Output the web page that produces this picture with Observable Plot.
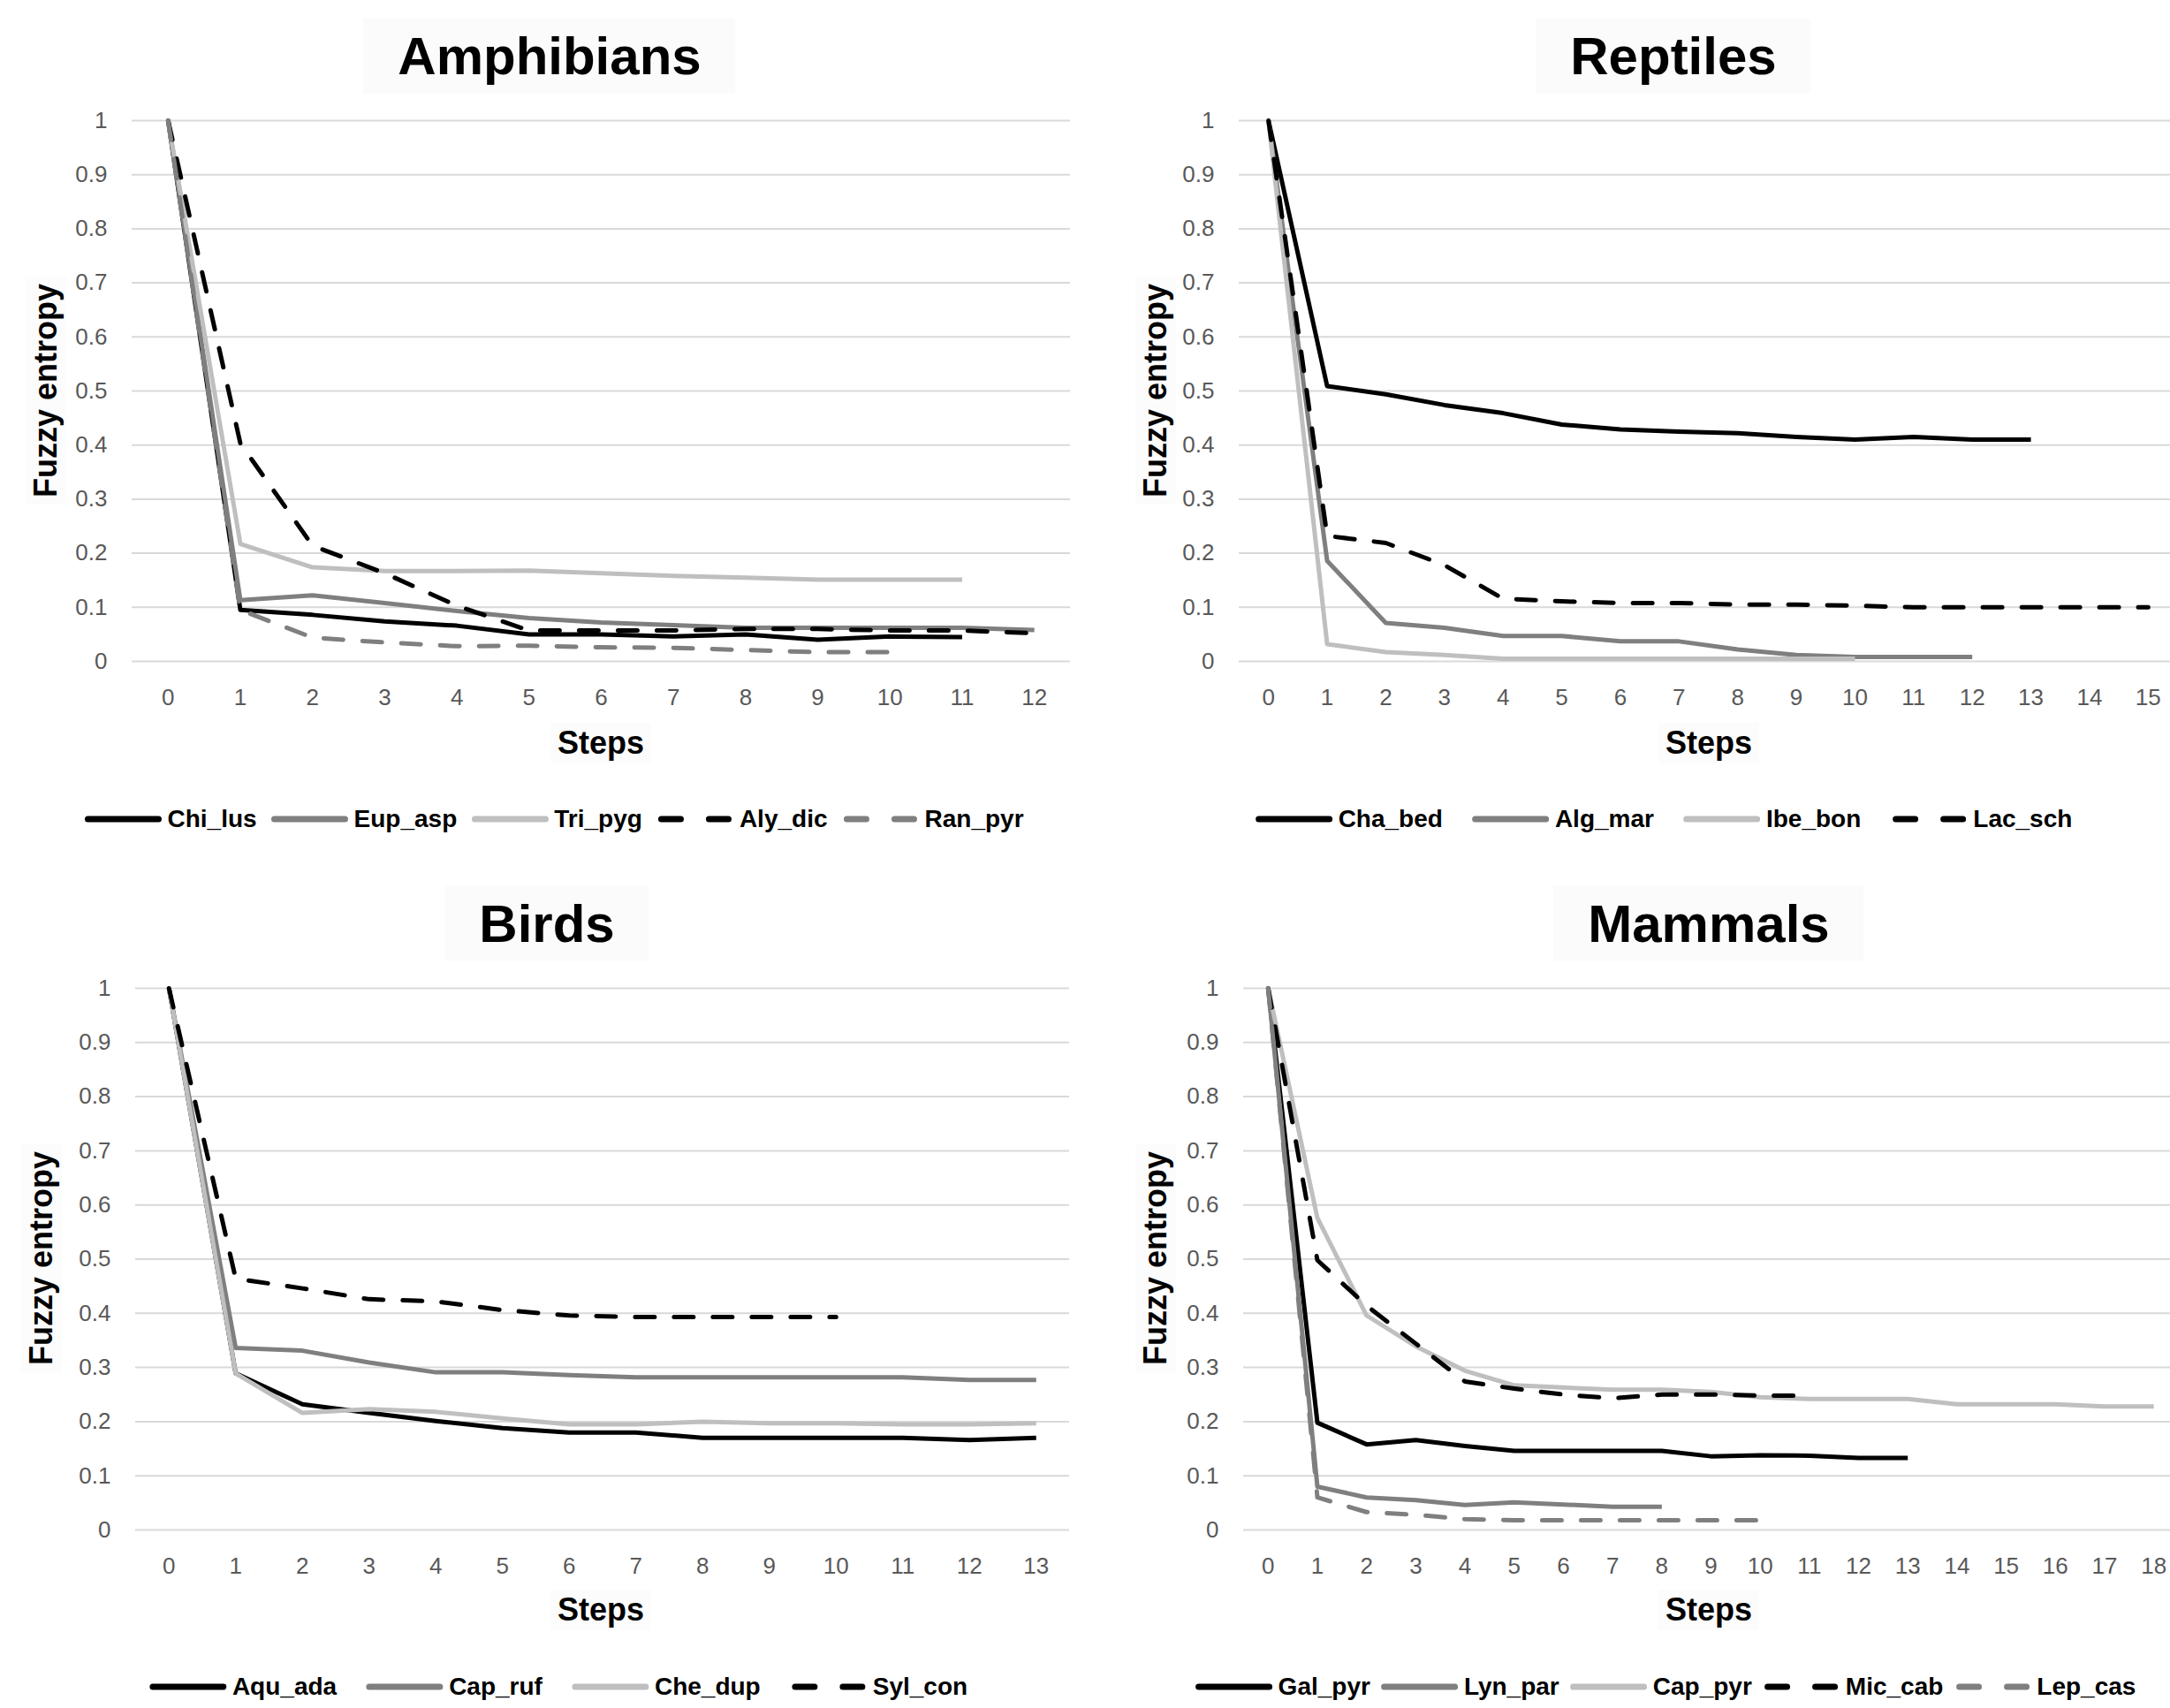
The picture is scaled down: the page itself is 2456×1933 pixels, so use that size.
<!DOCTYPE html>
<html><head><meta charset="utf-8">
<script src="https://cdn.jsdelivr.net/npm/d3@7"></script>
<script src="https://cdn.jsdelivr.net/npm/@observablehq/plot@0.6"></script>
<style>
html,body{margin:0;padding:0;background:#fff;width:2456px;height:1933px;overflow:hidden;}
#root{position:relative;width:2456px;height:1933px;overflow:hidden;background:#fff;}
.abs{position:absolute;}
.title{font:bold 60px "Liberation Sans",Arial,sans-serif;color:#000;transform:translate(-50%,-50%);background:#fbfbfb;padding:8px 39px;white-space:nowrap;line-height:1.15;}
.axlab{font:bold 36px "Liberation Sans",Arial,sans-serif;color:#000;transform:translate(-50%,-50%);white-space:nowrap;background:#fcfcfc;padding:2px 8px;}
.ylab{transform:translate(-50%,-50%) rotate(-90deg);}
.legend{display:flex;align-items:center;transform:translate(-50%,-50%);white-space:nowrap;font:bold 28px "Liberation Sans",Arial,sans-serif;color:#000;}
.legend .item{display:flex;align-items:center;}
.legend svg{display:block;}
</style>
</head><body><div id="root"></div>
<script>
// ---------- shared axis values ----------
const yTicks = [0, 0.1, 0.2, 0.3, 0.4, 0.5, 0.6, 0.7, 0.8, 0.9, 1];
const yTickLabels = ["0", "0.1", "0.2", "0.3", "0.4", "0.5", "0.6", "0.7", "0.8", "0.9", "1"];

// ---------- Amphibians ----------
const amphSteps = [0, 1, 2, 3, 4, 5, 6, 7, 8, 9, 10, 11, 12];
const amphNames = ["Chi_lus", "Eup_asp", "Tri_pyg", "Aly_dic", "Ran_pyr"];
const chiLus = [1, 0.095, 0.086, 0.074, 0.066, 0.05, 0.05, 0.046, 0.05, 0.04, 0.046, 0.045];
const eupAsp = [1, 0.113, 0.122, 0.108, 0.093, 0.08, 0.072, 0.067, 0.062, 0.062, 0.062, 0.062, 0.058];
const triPyg = [1, 0.217, 0.174, 0.167, 0.167, 0.168, 0.163, 0.158, 0.155, 0.151, 0.151, 0.151];
const alyDic = [1, 0.403, 0.214, 0.163, 0.103, 0.057, 0.057, 0.057, 0.06, 0.06, 0.057, 0.057, 0.052];
const ranPyr = [1, 0.095, 0.044, 0.035, 0.028, 0.029, 0.026, 0.025, 0.021, 0.017, 0.017];

// ---------- Reptiles ----------
const reptSteps = [0, 1, 2, 3, 4, 5, 6, 7, 8, 9, 10, 11, 12, 13, 14, 15];
const reptNames = ["Cha_bed", "Alg_mar", "Ibe_bon", "Lac_sch"];
const chaBed = [1, 0.509, 0.494, 0.474, 0.459, 0.438, 0.429, 0.425, 0.422, 0.415, 0.41, 0.415, 0.41, 0.41];
const algMar = [1, 0.186, 0.071, 0.062, 0.047, 0.047, 0.037, 0.037, 0.022, 0.012, 0.008, 0.008, 0.008];
const ibeBon = [1, 0.032, 0.017, 0.012, 0.005, 0.005, 0.005, 0.005, 0.005, 0.005, 0.005];
const lacSch = [1, 0.232, 0.219, 0.178, 0.116, 0.111, 0.108, 0.108, 0.105, 0.105, 0.103, 0.1, 0.1, 0.1, 0.1, 0.1];

// ---------- Birds ----------
const birdSteps = [0, 1, 2, 3, 4, 5, 6, 7, 8, 9, 10, 11, 12, 13];
const birdNames = ["Aqu_ada", "Cap_ruf", "Che_dup", "Syl_con"];
const aquAda = [1, 0.289, 0.232, 0.216, 0.201, 0.188, 0.18, 0.18, 0.17, 0.17, 0.17, 0.17, 0.166, 0.17];
const capRuf = [1, 0.336, 0.331, 0.309, 0.291, 0.291, 0.286, 0.282, 0.282, 0.282, 0.282, 0.282, 0.277, 0.277];
const cheDup = [1, 0.289, 0.216, 0.223, 0.218, 0.206, 0.195, 0.195, 0.2, 0.197, 0.197, 0.195, 0.195, 0.197];
const sylCon = [1, 0.464, 0.446, 0.426, 0.422, 0.406, 0.396, 0.393, 0.393, 0.393, 0.393];

// ---------- Mammals ----------
const mammSteps = [0, 1, 2, 3, 4, 5, 6, 7, 8, 9, 10, 11, 12, 13, 14, 15, 16, 17, 18];
const mammNames = ["Gal_pyr", "Lyn_par", "Cap_pyr", "Mic_cab", "Lep_cas"];
const galPyr = [1, 0.198, 0.158, 0.166, 0.155, 0.146, 0.146, 0.146, 0.146, 0.136, 0.138, 0.137, 0.133, 0.133];
const lynPar = [1, 0.08, 0.06, 0.055, 0.046, 0.051, 0.047, 0.043, 0.043];
const capPyr = [1, 0.576, 0.396, 0.339, 0.294, 0.267, 0.263, 0.259, 0.259, 0.255, 0.245, 0.242, 0.242, 0.242, 0.232, 0.232, 0.232, 0.228, 0.228];
const micCab = [1, 0.498, 0.414, 0.344, 0.274, 0.261, 0.25, 0.243, 0.25, 0.25, 0.248, 0.248];
const lepCas = [1, 0.06, 0.033, 0.028, 0.02, 0.018, 0.018, 0.018, 0.018, 0.018, 0.018];

// ---------- styles ----------
const STYLE = {
  black:     {color: "#000000", dash: null},
  gray:      {color: "#7f7f7f", dash: null},
  light:     {color: "#bfbfbf", dash: null},
  blackDash: {color: "#000000", dash: "22,22"},
  grayDash:  {color: "#7f7f7f", dash: "22,22"}
};
const FONT = '"Liberation Sans", Arial, sans-serif';

const panels = [
  {title: "Amphibians", steps: amphSteps, names: amphNames, values: [chiLus, eupAsp, triPyg, alyDic, ranPyr],
   styles: ["black", "gray", "light", "blackDash", "grayDash"],
   box: {left: 149, right: 1211, top: 136, bottom: 748},
   titlePos: [622, 63], stepsPos: [680, 841], yLabPos: [52, 442], legendPos: [627, 927], legendGap: 16},
  {title: "Reptiles", steps: reptSteps, names: reptNames, values: [chaBed, algMar, ibeBon, lacSch],
   styles: ["black", "gray", "light", "blackDash"],
   box: {left: 1402, right: 2464, top: 136, bottom: 748},
   titlePos: [1894, 63], stepsPos: [1934, 841], yLabPos: [1308, 442], legendPos: [1883, 927], legendGap: 33},
  {title: "Birds", steps: birdSteps, names: birdNames, values: [aquAda, capRuf, cheDup, sylCon],
   styles: ["black", "gray", "light", "blackDash"],
   box: {left: 153, right: 1210, top: 1118, bottom: 1731},
   titlePos: [619, 1045], stepsPos: [680, 1822], yLabPos: [47, 1424], legendPos: [632, 1909], legendGap: 33},
  {title: "Mammals", steps: mammSteps, names: mammNames, values: [galPyr, lynPar, capPyr, micCab, lepCas],
   styles: ["black", "gray", "light", "blackDash", "grayDash"],
   box: {left: 1407, right: 2465, top: 1118, bottom: 1731},
   titlePos: [1934, 1045], stepsPos: [1934, 1822], yLabPos: [1308, 1424], legendPos: [1885, 1909], legendGap: 12}
];

const root = document.getElementById("root");

function addDiv(cls, text, x, y) {
  const d = document.createElement("div");
  d.className = "abs " + cls;
  d.textContent = text;
  d.style.left = x + "px";
  d.style.top = y + "px";
  root.appendChild(d);
  return d;
}

for (const p of panels) {
  const mL = 110, mR = 10, mT = 20, mB = 70;
  const w = p.box.right - p.box.left;
  const h = p.box.bottom - p.box.top;
  const marks = [
    Plot.ruleY(yTicks, {stroke: "#d9d9d9", strokeWidth: 2}),
    Plot.axisY(yTicks, {tickSize: 0, tickPadding: 28, tickFormat: (d, i) => yTickLabels[yTicks.indexOf(d)],
      fontSize: 26, fill: "#595959", label: null}),
    Plot.axisX(p.steps, {tickSize: 0, tickPadding: 31, fontSize: 26, fill: "#595959", label: null})
  ];
  p.names.forEach((name, i) => {
    const st = STYLE[p.styles[i]];
    const data = p.values[i].map((v, j) => ({step: p.steps[j], value: v, species: name}));
    marks.push(Plot.line(data, {
      x: "step", y: "value", stroke: st.color, strokeWidth: 5,
      strokeDasharray: st.dash || undefined,
      strokeLinecap: st.dash ? "round" : "butt",
      strokeLinejoin: "round"
    }));
  });
  const svg = Plot.plot({
    width: w + mL + mR, height: h + mT + mB,
    marginLeft: mL, marginRight: mR, marginTop: mT, marginBottom: mB,
    x: {type: "point", domain: p.steps, padding: 0.5, round: false, axis: null},
    y: {domain: [0, 1], axis: null},
    style: {fontFamily: FONT, fontSize: "26px", background: "transparent", overflow: "visible"},
    marks
  });
  svg.style.position = "absolute";
  svg.style.left = (p.box.left - mL) + "px";
  svg.style.top = (p.box.top - mT) + "px";
  root.appendChild(svg);

  addDiv("title", p.title, p.titlePos[0], p.titlePos[1]);
  addDiv("axlab", "Steps", p.stepsPos[0], p.stepsPos[1]);
  addDiv("axlab ylab", "Fuzzy entropy", p.yLabPos[0], p.yLabPos[1]);

  // legend
  const lg = document.createElement("div");
  lg.className = "abs legend";
  lg.style.left = p.legendPos[0] + "px";
  lg.style.top = p.legendPos[1] + "px";
  p.names.forEach((name, i) => {
    const st = STYLE[p.styles[i]];
    const item = document.createElement("div");
    item.className = "item";
    if (i < p.names.length - 1) item.style.marginRight = p.legendGap + "px";
    const ns = "http://www.w3.org/2000/svg";
    const s = document.createElementNS(ns, "svg");
    s.setAttribute("width", 88); s.setAttribute("height", 14);
    const ln = document.createElementNS(ns, "line");
    ln.setAttribute("x1", 4); ln.setAttribute("x2", 84);
    ln.setAttribute("y1", 7); ln.setAttribute("y2", 7);
    ln.setAttribute("stroke", st.color); ln.setAttribute("stroke-width", 7);
    ln.setAttribute("stroke-linecap", "round");
    if (st.dash) { ln.setAttribute("x1", 6); ln.setAttribute("x2", 82); ln.setAttribute("stroke-dasharray", "22,32"); }
    s.appendChild(ln);
    item.appendChild(s);
    const t = document.createElement("span");
    t.textContent = name;
    t.style.marginLeft = "6px";
    item.appendChild(t);
    lg.appendChild(item);
  });
  root.appendChild(lg);
}
</script>
</body></html>
